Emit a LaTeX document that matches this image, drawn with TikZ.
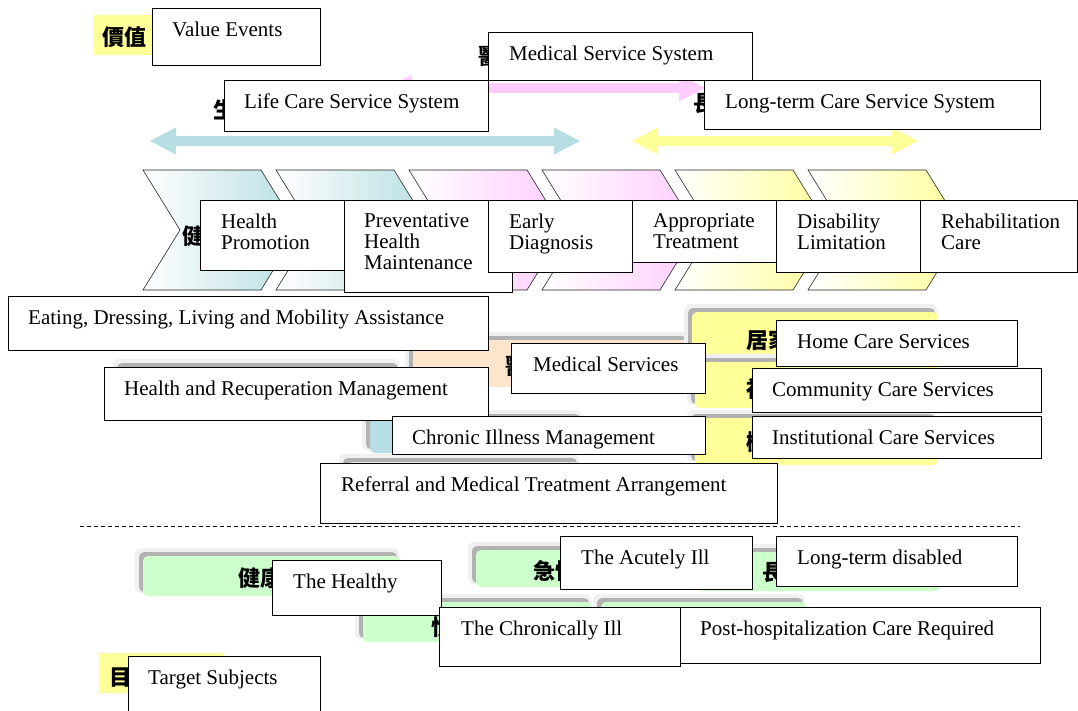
\documentclass[tikz,border=0pt]{standalone}
\usepackage{fontspec}
\setmainfont{Liberation Serif}
\newfontfamily\cjk{Noto Sans CJK TC}
\usetikzlibrary{positioning,calc,arrows.meta}

\definecolor{aquaC}{RGB}{183,222,226}
\definecolor{pinkC}{RGB}{255,204,255}
\definecolor{yellowC}{RGB}{255,255,153}
\definecolor{peachC}{RGB}{253,229,204}
\definecolor{greenC}{RGB}{204,255,204}

\begin{document}
\begin{tikzpicture}[x=1pt, y=-1pt,
    box/.style={draw, fill=white, line width=1.4pt, anchor=north west, inner sep=0pt},
    txt/.style={inner sep=0pt, align=left, font=\fontsize{21}{21}\selectfont, execute at begin node=\strut},
    zh/.style={anchor=base west, inner sep=0pt, font=\fontsize{22}{22}\selectfont\cjk\bfseries},
    span/.style={line width=10pt, {Triangle[length=26pt,width=27pt,line width=0pt]}-{Triangle[length=26pt,width=27pt,line width=0pt]}},
    halo/.style={fill=black!6, rounded corners=6pt},
    btnshadow/.style={fill=black!30, rounded corners=5pt}
]
    \path[use as bounding box, fill=white] (0,0) rectangle (1078,710);

    % highlighted headings
    \fill[yellowC] (94,15) rectangle (165,55);
    \fill[yellowC] (99,653) rectangle (223,693);

    % service bands
    \coordinate (medL) at (386,88);
    \coordinate (medR) at (705,88);
    \coordinate (lifeL) at (150,141);
    \coordinate (lifeR) at (580,141);
    \coordinate (ltcL) at (632,141);
    \coordinate (ltcR) at (918,141);
    \draw[span, pinkC] (medL) -- (medR);
    \draw[span, aquaC] (lifeL) -- (lifeR);
    \draw[span, yellowC] (ltcL) -- (ltcR);

    % chevrons
    \foreach \x/\col in {143/aquaC,276/aquaC,409/pinkC,542/pinkC,675/yellowC,808/yellowC}
        \shade[left color=white, right color=\col, draw=black!85, line width=0.6pt]
            (\x,170) -- ++(118,0) -- ++(37,60) -- ++(-37,60) -- ++(-118,0) -- ++(37,-60) -- cycle;

    % raised buttons
    \foreach \xa/\ya/\xb/\yb/\col in {121/367/401/420/black!10, 413/340/690/387/peachC,
        370/418/583/453/aquaC, 347/462/580/515/black!10, 692/312/938/360/yellowC,
        695/362/938/408/yellowC, 695/418/938/465/yellowC, 143/556/400/596/greenC,
        476/550/745/587/greenC, 697/552/940/591/greenC, 363/602/592/642/greenC,
        601/602/806/640/greenC}{
        \fill[halo] (\xa-8,\ya-8) rectangle (\xb-1,\yb-3);
        \fill[btnshadow] (\xa-4,\ya-4) rectangle (\xb-3,\yb-4);
        \fill[\col, rounded corners=5pt] (\xa,\ya) rectangle (\xb,\yb);
    }

    % chinese labels
    \node[zh] (zvalue) at (102,45) {價值};
    \node[zh] (zmed) at (478,64) {醫};
    \node[zh] (zlife) at (213,118) {生};
    \node[zh] (zltc) at (693,111) {長};
    \node[zh] (zhealth) at (182,244) {健};
    \node[zh] (zmedsrv) at (505,374) {醫};
    \node[zh] (zhome) at (746,348) {居家};
    \node[zh] (zcomm) at (746,397) {社};
    \node[zh] (zinst) at (746,450) {機};
    \node[zh] (zhealthy) at (238,586) {健康};
    \node[zh] (zchronic) at (431,635) {慢};
    \node[zh] (zacute) at (533,579) {急性};
    \node[zh] (zltd) at (762,580) {長};
    \node[zh] (ztarget) at (109,685) {目};

    % english boxes
    \node[box, minimum width=168pt, minimum height=57pt] (valuebox) at (152,8) {};
    \node[txt, below right=13.3pt and 20pt of valuebox.north west] (valuetxt) {Value Events};
    \node[box, minimum width=264pt, minimum height=48pt] (medsys) at (488,32) {};
    \node[txt, below right=13.3pt and 21pt of medsys.north west] (medsystxt) {Medical Service System};
    \node[box, minimum width=264pt, minimum height=51pt] (lifesys) at (224,80) {};
    \node[txt, below right=13.3pt and 20pt of lifesys.north west] (lifesystxt) {Life Care Service System};
    \node[box, minimum width=336pt, minimum height=49pt] (ltcsys) at (704,80) {};
    \node[txt, below right=13.3pt and 21pt of ltcsys.north west] (ltcsystxt) {Long-term Care Service System};

    \node[box, minimum width=144pt, minimum height=70pt] (hp) at (200,200) {};
    \node[txt, below right=13.3pt and 21pt of hp.north west] (hptxt) {Health\\Promotion};
    \node[box, minimum width=168pt, minimum height=92pt] (phm) at (344,200) {};
    \node[txt, below right=13.3pt and 20pt of phm.north west] (phmtxt) {Preventative\\Health\\Maintenance};
    \node[box, minimum width=144pt, minimum height=72pt] (ed) at (488,200) {};
    \node[txt, below right=13.3pt and 21pt of ed.north west] (edtxt) {Early\\Diagnosis};
    \node[box, minimum width=144pt, minimum height=62pt] (appr) at (632,200) {};
    \node[txt, below right=13.3pt and 21pt of appr.north west] (apprtxt) {Appropriate\\Treatment};
    \node[box, minimum width=144pt, minimum height=72pt] (dl) at (776,200) {};
    \node[txt, below right=13.3pt and 21pt of dl.north west] (dltxt) {Disability\\Limitation};
    \node[box, minimum width=157pt, minimum height=72pt] (rc) at (920,200) {};
    \node[txt, below right=13.3pt and 21pt of rc.north west] (rctxt) {Rehabilitation\\Care};

    \node[box, minimum width=480pt, minimum height=54pt] (eat) at (8,296) {};
    \node[txt, below right=13.3pt and 20pt of eat.north west] (eattxt) {Eating, Dressing, Living and Mobility Assistance};
    \node[box, minimum width=194pt, minimum height=50pt] (medsrv) at (511,343) {};
    \node[txt, below right=13.3pt and 22pt of medsrv.north west] (medsrvtxt) {Medical Services};
    \node[box, minimum width=384pt, minimum height=53pt] (hrm) at (104,367) {};
    \node[txt, below right=13.3pt and 20pt of hrm.north west] (hrmtxt) {Health and Recuperation Management};
    \node[box, minimum width=313pt, minimum height=38pt] (cim) at (392,416) {};
    \node[txt, below right=13.3pt and 20pt of cim.north west] (cimtxt) {Chronic Illness Management};
    \node[box, minimum width=457pt, minimum height=60pt] (rmta) at (320,463) {};
    \node[txt, below right=14pt and 21pt of rmta.north west] (rmtatxt) {Referral and Medical Treatment Arrangement};

    \node[box, minimum width=241pt, minimum height=46pt] (home) at (776,320) {};
    \node[txt, below right=13.3pt and 21pt of home.north west] (hometxt) {Home Care Services};
    \node[box, minimum width=289pt, minimum height=44pt] (comm) at (752,368) {};
    \node[txt, below right=13.3pt and 20pt of comm.north west] (commtxt) {Community Care Services};
    \node[box, minimum width=289pt, minimum height=42pt] (inst) at (752,416) {};
    \node[txt, below right=13.3pt and 20pt of inst.north west] (insttxt) {Institutional Care Services};

    % separator
    \coordinate (sepL) at (80,526);
    \coordinate (sepR) at (1020,526);
    \draw[line width=0.7pt, dash pattern=on 4pt off 3pt] (sepL) -- (sepR);

    \node[box, minimum width=169pt, minimum height=55pt] (healthy) at (272,560) {};
    \node[txt, below right=14pt and 21pt of healthy.north west] (healthytxt) {The Healthy};
    \node[box, minimum width=192pt, minimum height=53pt] (acute) at (560,536) {};
    \node[txt, below right=13.3pt and 21pt of acute.north west] (acutetxt) {The Acutely Ill};
    \node[box, minimum width=241pt, minimum height=50pt] (ltd) at (776,536) {};
    \node[txt, below right=13.3pt and 21pt of ltd.north west] (ltdtxt) {Long-term disabled};
    \node[box, minimum width=241pt, minimum height=59pt] (chronic) at (439,607) {};
    \node[txt, below right=13.3pt and 22pt of chronic.north west] (chronictxt) {The Chronically Ill};
    \node[box, minimum width=360pt, minimum height=56pt] (posthosp) at (680,607) {};
    \node[txt, below right=13.3pt and 20pt of posthosp.north west] (posthosptxt) {Post-hospitalization Care Required};
    \node[box, minimum width=192pt, minimum height=62pt] (target) at (128,656) {};
    \node[txt, below right=13.3pt and 20pt of target.north west] (targettxt) {Target Subjects};
\end{tikzpicture}
\end{document}
